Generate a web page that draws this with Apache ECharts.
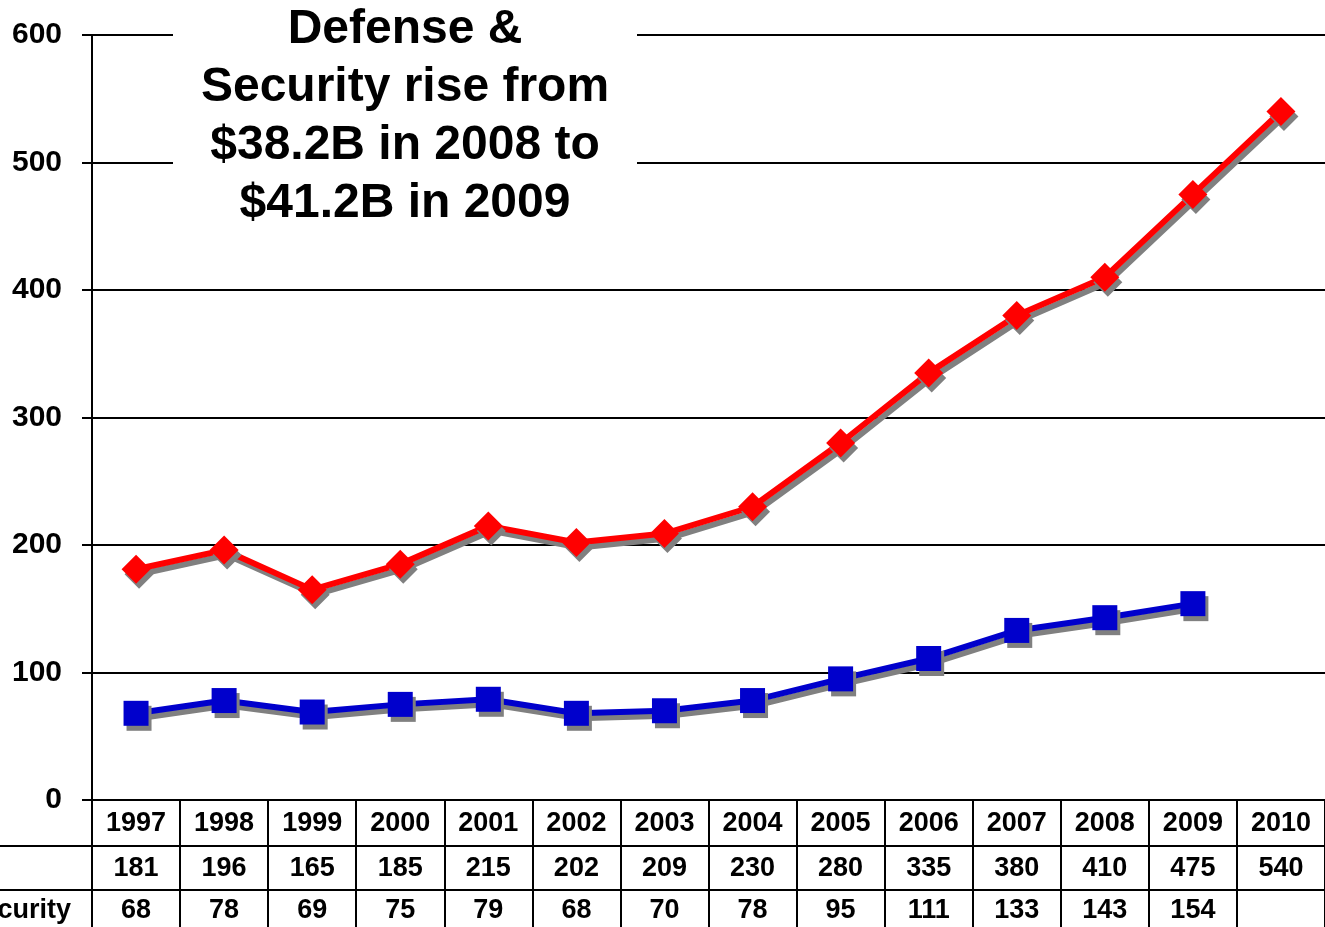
<!DOCTYPE html>
<html>
<head>
<meta charset="utf-8">
<script src="https://cdn.jsdelivr.net/npm/echarts@6/dist/echarts.min.js"></script>
<style>
  html, body { margin: 0; padding: 0; background: #fff; }
  #main { width: 1325px; height: 927px; }
</style>
</head>
<body>
<div id="main"></div>
<script>
// data
const years = ['1997', '1998', '1999', '2000', '2001', '2002', '2003', '2004', '2005', '2006', '2007', '2008', '2009', '2010'];
const totalVals = [181, 196, 165, 185, 215, 202, 209, 230, 280, 335, 380, 410, 475, 540];
const securityVals = [68, 78, 69, 75, 79, 68, 70, 78, 95, 111, 133, 143, 154, null];
const yTicks = [0, 100, 200, 300, 400, 500, 600];

const FONT = '"Liberation Sans", Arial, sans-serif';
const black = { color: '#000', width: 2 };
const shadow = { shadowColor: '#808080', shadowBlur: 0, shadowOffsetX: 3, shadowOffsetY: 5 };

const cellLabel = (fmt, margin) => ({
  interval: 0,
  margin: margin,
  fontFamily: FONT,
  fontWeight: 'bold',
  fontSize: 27,
  lineHeight: 27,
  color: '#000',
  formatter: fmt
});

const myChart = echarts.init(document.getElementById('main'));

myChart.setOption({
  animation: false,
  backgroundColor: '#fff',
  grid: { left: 92, top: 35, width: 1235, height: 765 },
  xAxis: [
    {
      type: 'category',
      data: years,
      boundaryGap: true,
      axisLine: { show: true, lineStyle: black },
      axisTick: { show: true, length: 127, lineStyle: black },
      axisLabel: cellLabel(null, 10),
      splitLine: { show: false }
    },
    {
      type: 'category',
      data: years,
      position: 'bottom',
      offset: 45,
      axisLine: { show: false },
      axisTick: { show: false },
      axisLabel: cellLabel((v, i) => String(totalVals[i]), 10)
    },
    {
      type: 'category',
      data: years,
      position: 'bottom',
      offset: 90,
      axisLine: { show: false },
      axisTick: { show: false },
      axisLabel: cellLabel((v, i) => securityVals[i] == null ? '' : String(securityVals[i]), 7)
    }
  ],
  yAxis: {
    type: 'value',
    min: yTicks[0],
    max: yTicks[yTicks.length - 1],
    interval: 100,
    axisLine: { show: true, lineStyle: black },
    axisTick: { show: true, length: 10, lineStyle: black },
    axisLabel: {
      margin: 30,
      fontFamily: FONT,
      fontWeight: 'bold',
      fontSize: 30,
      color: '#000'
    },
    splitLine: { show: true, lineStyle: black }
  },
  series: [
    {
      name: 'Total',
      type: 'line',
      data: totalVals,
      symbol: 'diamond',
      symbolSize: 29,
      lineStyle: Object.assign({ color: '#ff0000', width: 6 }, shadow),
      itemStyle: Object.assign({ color: '#ff0000' }, shadow),
      z: 5
    },
    {
      name: 'Defense & Security',
      type: 'line',
      data: securityVals,
      symbol: 'rect',
      symbolSize: 25,
      lineStyle: Object.assign({ color: '#0000cc', width: 6 }, shadow),
      itemStyle: Object.assign({ color: '#0000cc' }, shadow),
      z: 4
    }
  ],
  graphic: [
    // white box behind the headline, it cuts the top grid lines
    {
      type: 'rect',
      z: 50,
      shape: { x: 173, y: 0, width: 464, height: 240 },
      style: { fill: '#fff' }
    },
    {
      type: 'text',
      z: 51,
      x: 405,
      y: 1,
      style: {
        text: 'Defense &\nSecurity rise from\n$38.2B in 2008 to\n$41.2B in 2009',
        font: 'bold 48px ' + FONT,
        lineHeight: 58,
        align: 'center',
        verticalAlign: 'top',
        fill: '#000'
      }
    },
    // table row lines
    {
      type: 'line',
      z: 10,
      shape: { x1: 0, y1: 846, x2: 1325, y2: 846 },
      style: { stroke: '#000', lineWidth: 2 }
    },
    {
      type: 'line',
      z: 10,
      shape: { x1: 0, y1: 890, x2: 1325, y2: 890 },
      style: { stroke: '#000', lineWidth: 2 }
    },
    {
      type: 'text',
      z: 10,
      x: 71,
      y: 911,
      style: {
        text: 'Defense & Security',
        font: 'bold 27px ' + FONT,
        align: 'right',
        verticalAlign: 'middle',
        fill: '#000'
      }
    }
  ]
});
</script>
</body>
</html>
